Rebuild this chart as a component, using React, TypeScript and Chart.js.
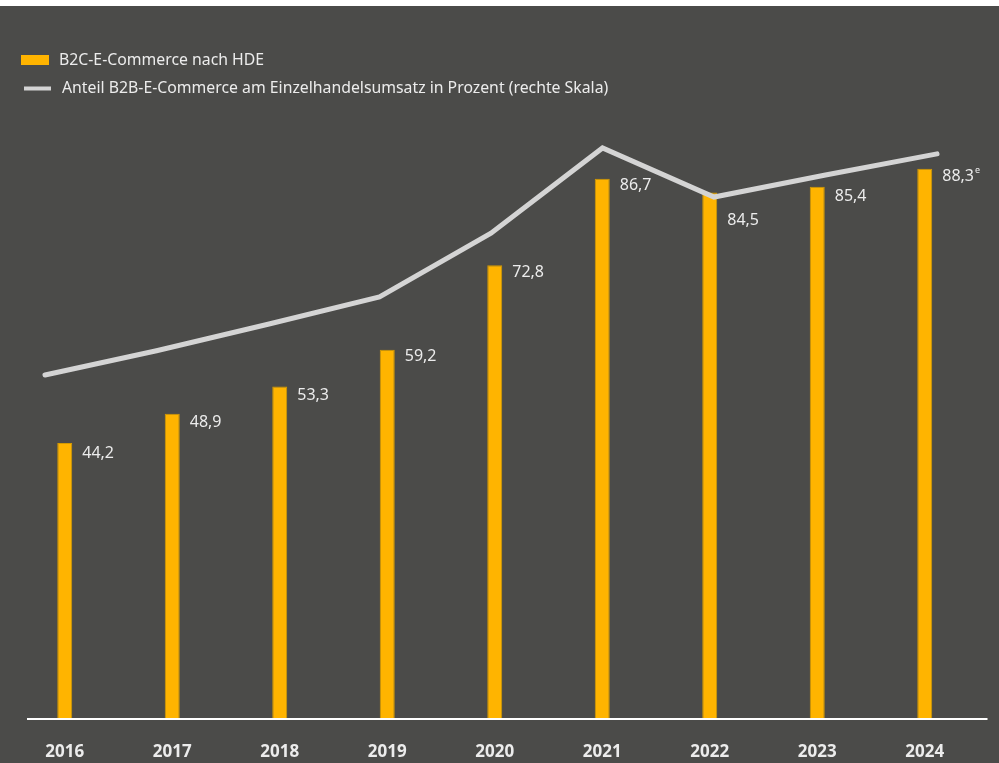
import React, { useEffect, useRef } from "react";
import { Chart, registerables } from "chart.js";

Chart.register(...registerables);

const years = ["2016", "2017", "2018", "2019", "2020", "2021", "2022", "2023", "2024"];
const b2cValues = [44.2, 48.9, 53.3, 59.2, 72.8, 86.7, 84.5, 85.4, 88.3];
const b2cLabels = ["44,2", "48,9", "53,3", "59,2", "72,8", "86,7", "84,5", "85,4", "88,3"];
const estimateFlags = [false, false, false, false, false, false, false, false, true];
const b2bShare = [11.03, 11.81, 12.66, 13.54, 15.59, 18.33, 16.75, 17.46, 18.14];
const legendLabels = [
  "B2C-E-Commerce nach HDE",
  "Anteil B2B-E-Commerce am Einzelhandelsumsatz in Prozent (rechte Skala)",
];

// style: vertical nudge of value labels below the bar top (px)
const LABEL_DY = [10, 9, 9, 7, 7, 7, 28, 10, 8];

const BG = "#4b4b49";
const ORANGE = "#FFB400";
const LINE = "#d4d4d4";
const TEXT = "#ececec";
const FONT = "'Noto Sans', sans-serif";

const decorPlugin = {
  id: "decor",
  beforeDraw(chart: any) {
    const { ctx, width, height } = chart;
    ctx.save();
    ctx.fillStyle = BG;
    ctx.fillRect(0, 0, width, height);
    ctx.restore();
  },
  afterDatasetsDraw(chart: any) {
    const { ctx, chartArea } = chart;
    ctx.save();
    // x axis baseline
    ctx.strokeStyle = "#ffffff";
    ctx.lineWidth = 2;
    ctx.beginPath();
    ctx.moveTo(chartArea.left + 16, chartArea.bottom + 1);
    ctx.lineTo(chartArea.right + 9, chartArea.bottom + 1);
    ctx.stroke();

    const meta = chart.getDatasetMeta(1);
    ctx.textBaseline = "middle";

    // year labels
    ctx.fillStyle = TEXT;
    ctx.textAlign = "center";
    ctx.font = `bold 17px ${FONT}`;
    meta.data.forEach((bar: any, i: number) => {
      ctx.fillText(years[i], bar.x, chartArea.bottom + 34);
    });

    // bar value labels
    ctx.textAlign = "left";
    meta.data.forEach((bar: any, i: number) => {
      const x = bar.x + bar.width / 2 + 10;
      const y = bar.y + LABEL_DY[i];
      ctx.font = `16px ${FONT}`;
      ctx.fillText(b2cLabels[i], x, y);
      if (estimateFlags[i]) {
        const w = ctx.measureText(b2cLabels[i]).width;
        ctx.font = `9px ${FONT}`;
        ctx.fillText("e", x + w + 1, y - 6);
      }
    });

    // legend
    ctx.font = `15.8px ${FONT}`;
    ctx.fillStyle = ORANGE;
    ctx.fillRect(21, 49, 28, 10);
    ctx.fillStyle = TEXT;
    ctx.fillText(legendLabels[0], 59, 54);
    ctx.strokeStyle = LINE;
    ctx.lineWidth = 4;
    ctx.beginPath();
    ctx.moveTo(24, 82.5);
    ctx.lineTo(51, 82.5);
    ctx.stroke();
    ctx.fillText(legendLabels[1], 62, 82);
    ctx.restore();
  },
};

export default function App() {
  const ref = useRef<HTMLCanvasElement | null>(null);

  useEffect(() => {
    document.body.style.margin = "0";
    if (!ref.current) return;
    const chart = new Chart(ref.current, {
      data: {
        labels: years,
        datasets: [
          {
            type: "line",
            label: legendLabels[1],
            data: b2bShare.map((v, i) => ({ x: i, y: v })),
            xAxisID: "x2",
            yAxisID: "y2",
            borderColor: LINE,
            borderWidth: 5,
            borderCapStyle: "round",
            borderJoinStyle: "miter",
            pointRadius: 0,
            tension: 0,
            order: 0,
          },
          {
            type: "bar",
            label: legendLabels[0],
            data: b2cValues,
            xAxisID: "x",
            yAxisID: "y",
            backgroundColor: ORANGE,
            borderColor: "#d49a00",
            borderWidth: 1,
            grouped: false,
            categoryPercentage: 1,
            barPercentage: 0.1395,
            order: 1,
          },
        ] as any,
      },
      options: {
        responsive: false,
        animation: false,
        layout: { padding: { left: 11, right: 20.5, top: 90, bottom: 45 } },
        plugins: { legend: { display: false }, tooltip: { enabled: false } },
        scales: {
          x: { type: "category", display: false, offset: true },
          x2: { type: "linear", display: false, min: -0.305, max: 8.372 },
          y: { display: false, min: 0, max: 100 },
          y2: { display: false, min: 0, max: 20, position: "right" },
        },
      } as any,
      plugins: [decorPlugin],
    });
    return () => chart.destroy();
  }, []);

  return (
    <div style={{ position: "absolute", left: 0, top: 0, width: 999, height: 763, background: "#ffffff" }}>
      <canvas
        ref={ref}
        width={999}
        height={757}
        style={{ position: "absolute", left: 0, top: 6, width: 999, height: 757, display: "block" }}
      />
    </div>
  );
}
